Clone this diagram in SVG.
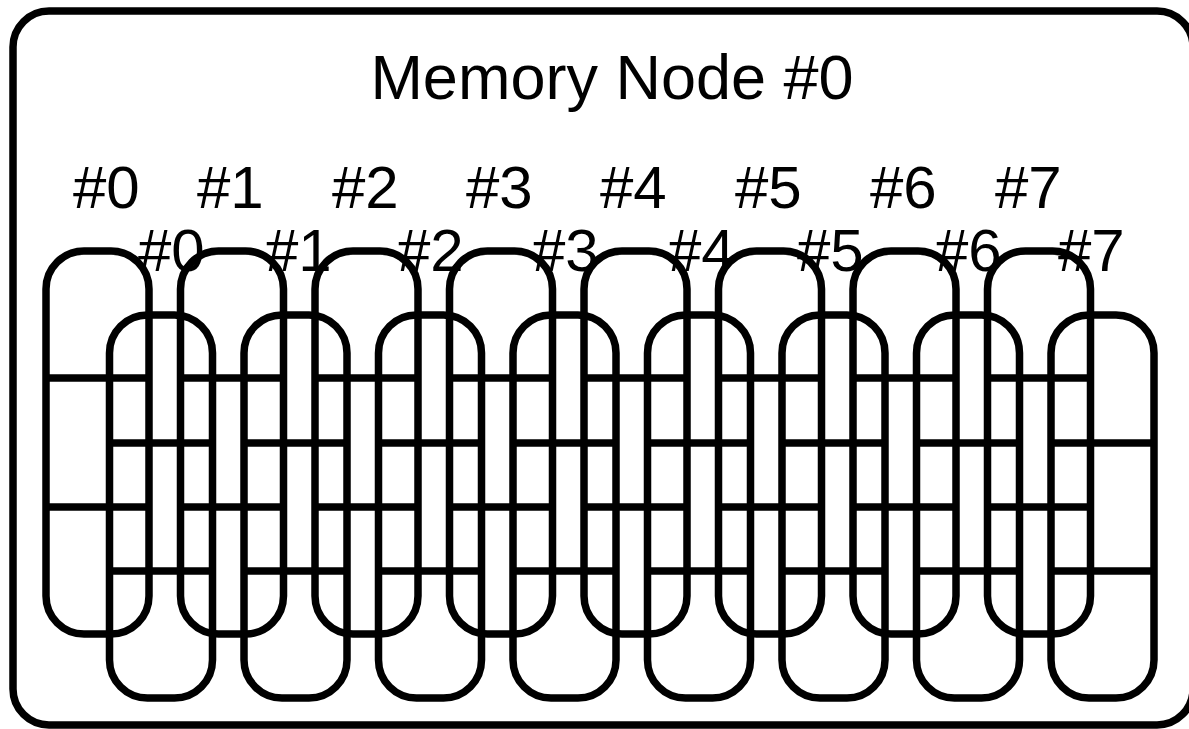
<svg xmlns="http://www.w3.org/2000/svg" width="1189" height="729" viewBox="0 0 1189 729">
  <style>
    .frame { fill: none; stroke: #000; stroke-width: 7.5; }
    .pill { fill: none; stroke: #000; stroke-width: 7.5; }
    .div { stroke: #000; stroke-width: 7.5; }
    .title { font-family: "Liberation Sans", Arial, sans-serif; font-size: 63px; fill: #000; }
    .lbl { font-family: "Liberation Sans", Arial, sans-serif; font-size: 60px; fill: #000; }
  </style>
  <defs>
    <!-- back-row bank: 3 equal segments -->
    <g id="bankBack">
      <rect class="pill" x="0" y="0" width="103" height="383" rx="38" ry="38"/>
      <line class="div" x1="0" y1="127" x2="103" y2="127"/>
      <line class="div" x1="0" y1="256" x2="103" y2="256"/>
    </g>
    <!-- front-row bank -->
    <g id="bankFront">
      <rect class="pill" x="0" y="0" width="103" height="383" rx="38" ry="38"/>
      <line class="div" x1="0" y1="128" x2="103" y2="128"/>
      <line class="div" x1="0" y1="256" x2="103" y2="256"/>
    </g>
  </defs>

  <!-- memory node enclosure -->
  <g id="memory-node">
    <rect class="frame" x="13" y="11" width="1180" height="714" rx="36" ry="36"/>
    <text class="title" x="612" y="99" text-anchor="middle">Memory Node #0</text>
  </g>

  <!-- back row of banks -->
  <g id="back-row">
    <g id="back-0"><use href="#bankBack" x="46" y="251"/></g>
    <g id="back-1"><use href="#bankBack" x="180.5" y="251"/></g>
    <g id="back-2"><use href="#bankBack" x="315" y="251"/></g>
    <g id="back-3"><use href="#bankBack" x="449.5" y="251"/></g>
    <g id="back-4"><use href="#bankBack" x="584" y="251"/></g>
    <g id="back-5"><use href="#bankBack" x="718.5" y="251"/></g>
    <g id="back-6"><use href="#bankBack" x="853" y="251"/></g>
    <g id="back-7"><use href="#bankBack" x="987.5" y="251"/></g>
  </g>

  <!-- front row of banks -->
  <g id="front-row">
    <g id="front-0"><use href="#bankFront" x="109.5" y="315"/></g>
    <g id="front-1"><use href="#bankFront" x="244" y="315"/></g>
    <g id="front-2"><use href="#bankFront" x="378.5" y="315"/></g>
    <g id="front-3"><use href="#bankFront" x="513" y="315"/></g>
    <g id="front-4"><use href="#bankFront" x="647.5" y="315"/></g>
    <g id="front-5"><use href="#bankFront" x="782" y="315"/></g>
    <g id="front-6"><use href="#bankFront" x="916.5" y="315"/></g>
    <g id="front-7"><use href="#bankFront" x="1051" y="315"/></g>
  </g>

  <!-- bank labels -->
  <g id="labels-back">
    <text class="lbl" x="73" y="208">#0</text>
    <text class="lbl" x="197" y="208">#1</text>
    <text class="lbl" x="332" y="208">#2</text>
    <text class="lbl" x="466" y="208">#3</text>
    <text class="lbl" x="600" y="208">#4</text>
    <text class="lbl" x="735" y="208">#5</text>
    <text class="lbl" x="870" y="208">#6</text>
    <text class="lbl" x="995" y="208">#7</text>
  </g>
  <g id="labels-front">
    <text class="lbl" x="138" y="271">#0</text>
    <text class="lbl" x="265" y="271">#1</text>
    <text class="lbl" x="397" y="271">#2</text>
    <text class="lbl" x="532" y="271">#3</text>
    <text class="lbl" x="668" y="271">#4</text>
    <text class="lbl" x="797" y="271">#5</text>
    <text class="lbl" x="935" y="271">#6</text>
    <text class="lbl" x="1058" y="271">#7</text>
  </g>
</svg>
